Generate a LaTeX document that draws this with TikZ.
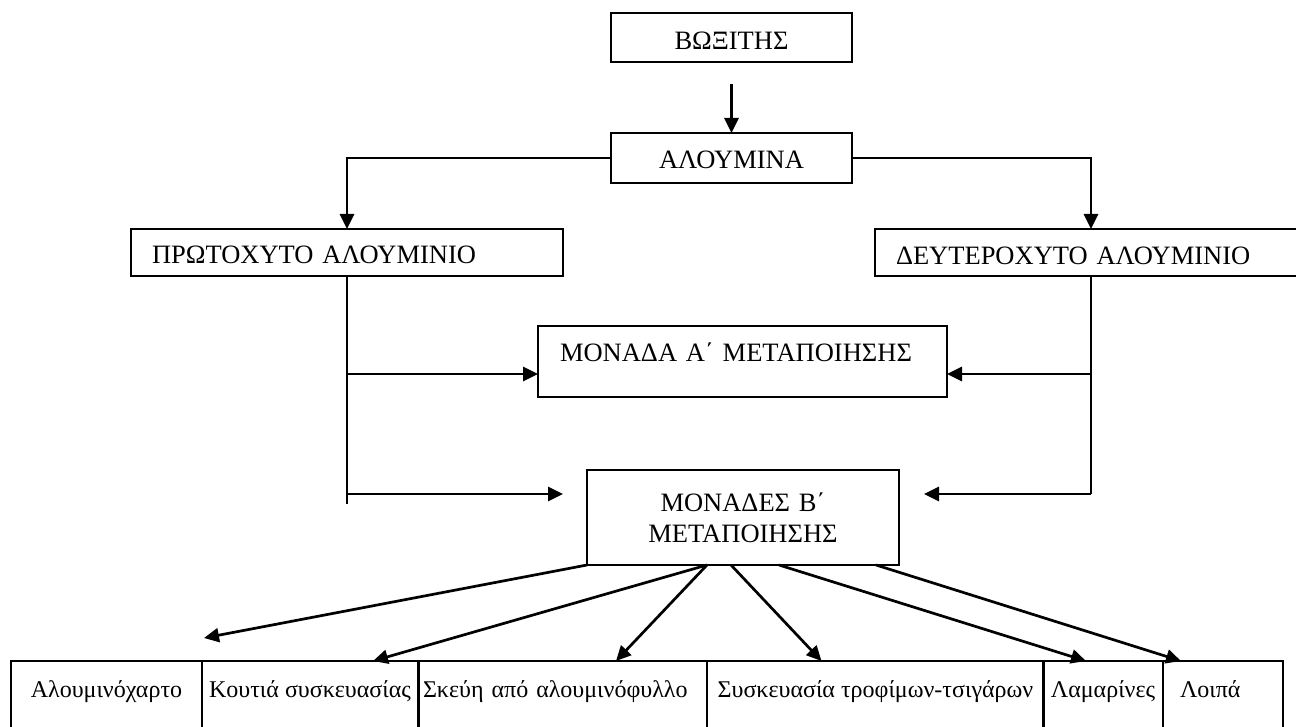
\documentclass[tikz,border=0pt]{standalone}
\usepackage{fontspec}
\setmainfont{Liberation Serif}
\usetikzlibrary{arrows.meta}
\tikzset{
    box/.style={draw, line width=2.1pt, anchor=north west, outer sep=0pt, inner ysep=0pt, font=\fontsize{26.5}{31}\selectfont},
    cell/.style={box, font=\fontsize{24}{29}\selectfont, text height=36pt, text depth=48pt},
    wire/.style={line width=2.2pt},
    arr/.style={line width=2.7pt, -{Triangle[length=15pt,width=14pt]}},
}
\begin{document}
\begin{tikzpicture}[x=1pt, y=-1pt]
    \useasboundingbox (0,0) rectangle (1296,727);
    \node[box, minimum width=241pt, inner xsep=0pt, text height=37pt, text depth=12pt] (bauxite) at (611,13) {ΒΩΞΙΤΗΣ};
    \node[box, minimum width=241pt, inner xsep=0pt, text height=36pt, text depth=14pt] (alumina) at (611,133) {ΑΛΟΥΜΙΝΑ};
    \node[box, text width=390pt, inner xsep=21pt, align=left, text height=35pt, text depth=12pt] (primary) at (131,229) {ΠΡΩΤΟΧΥΤΟ ΑΛΟΥΜΙΝΙΟ};
    \node[box, text width=390pt, inner xsep=21pt, align=left, text height=36pt, text depth=11pt] (secondary) at (875,229) {ΔΕΥΤΕΡΟΧΥΤΟ ΑΛΟΥΜΙΝΙΟ};
    \node[box, text width=365pt, inner xsep=22pt, align=left, text height=36pt, text depth=35pt] (unitA) at (538,326) {ΜΟΝΑΔΑ Α΄ ΜΕΤΑΠΟΙΗΣΗΣ};
    \node[box, text width=312pt, inner xsep=0pt, align=center, minimum height=95pt] (unitsB) at (587,470) {ΜΟΝΑΔΕΣ Β΄\\ΜΕΤΑΠΟΙΗΣΗΣ};
    \node[cell, minimum width=191pt, inner xsep=0pt] (foil) at (11,661) {Αλουμινόχαρτο};
    \node[cell, minimum width=216pt, inner xsep=0pt] (cans) at (202,661) {Κουτιά συσκευασίας};
    \node[cell, text width=280pt, inner xsep=4pt, align=left] (trays) at (419,661) {Σκεύη από αλουμινόφυλλο};
    \node[cell, minimum width=337pt, inner xsep=0pt] (packing) at (707,661) {Συσκευασία τροφίμων-τσιγάρων};
    \node[cell, minimum width=120pt, inner xsep=0pt] (sheets) at (1043,661) {Λαμαρίνες};
    \node[cell, text width=86pt, inner xsep=17pt, align=left] (other) at (1163,661) {Λοιπά};
    \coordinate (lA) at (347,374);
    \coordinate (lB) at (347,494);
    \coordinate (lend) at (347,504);
    \coordinate (rA) at (1091,374);
    \coordinate (rB) at (1091,494);
    \coordinate (foiltip) at (204,638);
    \draw[arr, shorten <=22pt] (bauxite) -- (alumina);
    \draw[arr] (alumina.west) -| (primary.north);
    \draw[arr] (alumina.east) -| (secondary.north);
    \draw[wire] (primary.south) -- (lend);
    \draw[wire] (secondary.south) -- (rB);
    \draw[arr] (lA) -- (lA -| unitA.west);
    \draw[arr, shorten >=24pt] (lB) -- (lB -| unitsB.west);
    \draw[arr] (rA) -- (rA -| unitA.east);
    \draw[arr, shorten >=25pt] (rB) -- (rB -| unitsB.east);
    \draw[arr] (unitsB.south west) -- (foiltip);
    \draw[arr] ([xshift=-36pt]unitsB.south) -- ([xshift=63pt]cans.north);
    \draw[arr] ([xshift=-36pt]unitsB.south) -- ([xshift=53pt]trays.north);
    \draw[arr] ([xshift=-12pt]unitsB.south) -- ([xshift=-54pt]packing.north);
    \draw[arr] ([xshift=36pt]unitsB.south) -- ([xshift=-17pt]sheets.north);
    \draw[arr] ([xshift=133pt]unitsB.south) -- ([xshift=-42pt]other.north);
\end{tikzpicture}
\end{document}
